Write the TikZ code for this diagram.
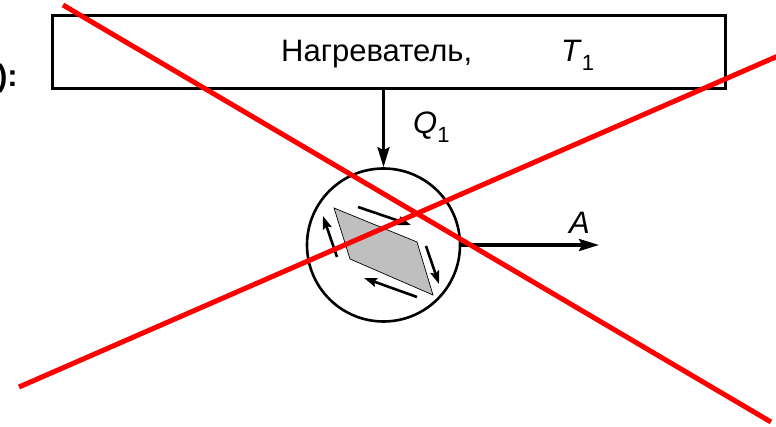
\documentclass[tikz,border=0pt]{standalone}
\usepackage{fontspec}
\setmainfont{Liberation Sans}
\usetikzlibrary{arrows.meta}
\newcommand{\subone}{\raisebox{-0.28em}{\fontsize{22}{22}\selectfont 1}}
\begin{document}
\begin{tikzpicture}[x=1pt,y=-1pt,
  bigtxt/.style={font=\fontsize{31}{36}\selectfont, inner sep=0pt},
  frame/.style={draw=black, line width=3pt},
  mainarrow/.style={draw=black, line width=3.2pt, -{Stealth[length=20pt,width=12pt,inset=3pt]}},
  smallarrow/.style={draw=black, line width=2.6pt, -{Stealth[length=13pt,width=9pt,inset=2pt]}},
  cross/.style={draw=red, line width=5pt}]
\useasboundingbox (0,0) rectangle (776,427);
\clip (0,0) rectangle (776,427);
% label at the left edge
\node[bigtxt, font=\fontsize{31}{36}\selectfont\bfseries, anchor=base east] (lbl) at (18,87) {):};
% heater box
\node[frame, rectangle, minimum width=673pt, minimum height=73pt, inner sep=0pt] (heater) at (388.5,52.5) {};
\node[bigtxt, anchor=base west] (htxt) at (281,62) {Нагреватель,};
\node[bigtxt, anchor=base west] (t1) at (561,62) {\textit{T}\subone};
% engine circle
\node[draw=black, line width=2.6pt, circle, minimum size=153pt, inner sep=0pt] (engine) at (383.5,245) {};
% working body
\filldraw[fill=black!25, draw=black, line width=0.7pt] (334,208) -- (417,242) -- (433,295) -- (350,259) -- cycle;
\coordinate (c1a) at (358,207); \coordinate (c1b) at (411,225);
\coordinate (c2a) at (426,246); \coordinate (c2b) at (439,284);
\coordinate (c3a) at (417,297); \coordinate (c3b) at (364,278);
\coordinate (c4a) at (337,257); \coordinate (c4b) at (323,216);
\draw[smallarrow] (c1a) -- (c1b);
\draw[smallarrow] (c2a) -- (c2b);
\draw[smallarrow] (c3a) -- (c3b);
\draw[smallarrow] (c4a) -- (c4b);
% heat flow
\draw[mainarrow] (engine.north |- heater.south) -- (engine.north);
\node[bigtxt, anchor=base west] (q1) at (413,134) {\textit{Q}\subone};
% work
\coordinate (aend) at (599,245);
\draw[mainarrow] (engine.east) -- (aend);
\node[bigtxt, anchor=base west] (alab) at (569,234) {\textit{A}};
% red crossing lines
\coordinate (r1a) at (63,5); \coordinate (r1b) at (771,422);
\coordinate (r2a) at (19,387); \coordinate (r2b) at (778,56);
\draw[cross] (r1a) -- (r1b);
\draw[cross] (r2a) -- (r2b);
\end{tikzpicture}
\end{document}
